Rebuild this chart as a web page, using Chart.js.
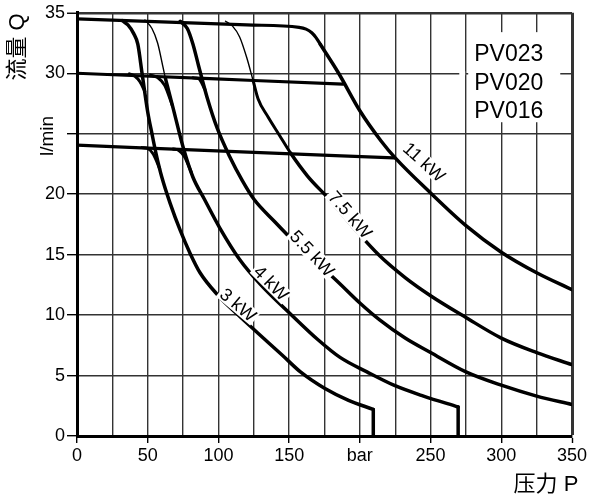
<!DOCTYPE html>
<html>
<head>
<meta charset="utf-8">
<script src="https://cdn.jsdelivr.net/npm/chart.js@4.4.1/dist/chart.umd.min.js"></script>
<style>
  body { margin: 0; background: #fff; }
  #wrap { width: 591px; height: 501px; }
</style>
</head>
<body>
<div id="wrap"><canvas id="pump" width="591" height="501"></canvas></div>
<script>
const FONT = '"Liberation Sans", "Noto Sans CJK SC", sans-serif';

// axis ticks
const xTicks = [0, 50, 100, 150, 200, 250, 300, 350];
const xTickLabels = ['0', '50', '100', '150', 'bar', '250', '300', '350'];
const yTicks = [0, 5, 10, 15, 20, 25, 30, 35];
const yTickLabels = ['0', '5', '10', '15', '20', '', '30', '35'];

// pump max flow lines (pressure bar / flow l/min)
const pv023P = [0, 60, 120, 157, 162, 166, 169, 172];
const pv023Q = [34.5, 34.25, 34.0, 33.8, 33.65, 33.35, 32.95, 32.4];
const pv020P = [0, 94, 188];
const pv020Q = [30.0, 29.55, 29.1];
const pv016P = [0, 112, 224];
const pv016Q = [24.05, 23.52, 23.0];

// motor power curves
const kw11P = [172, 185, 200, 215, 225, 250, 275, 300, 325, 350];
const kw11Q = [32.4, 30.0, 26.9, 24.4, 23.0, 20.1, 17.4, 15.2, 13.5, 12.1];
const kw75P = [105, 110, 115, 120, 124.5, 128, 135, 143, 151, 163, 179, 195, 214, 232, 250, 275, 300, 325, 350];
const kw75Q = [34.3, 33.9, 33.0, 31.3, 29.4, 27.9, 26.4, 24.9, 23.4, 21.5, 19.5, 17.3, 14.9, 13.1, 11.6, 9.8, 8.1, 6.9, 5.9];
const kw55P = [73, 78, 82, 86, 92, 99, 108, 117, 125, 140, 155, 170, 184, 200, 214, 232, 250, 275, 300, 325, 350];
const kw55Q = [34.3, 33.7, 32.4, 30.6, 28.0, 25.5, 23.1, 21.1, 19.6, 17.7, 15.9, 14.3, 12.8, 11.0, 9.6, 8.1, 6.9, 5.3, 4.2, 3.3, 2.6];
const kw4P = [48, 53, 57, 61, 62.5, 64, 68, 75, 82, 90, 101, 115, 130, 150, 170, 186, 205, 224, 245, 269.5];
const kw4Q = [34.4, 33.7, 32.5, 30.4, 29.6, 28.9, 27.1, 23.9, 21.4, 19.6, 17.2, 14.6, 12.5, 10.2, 8.0, 6.5, 5.3, 4.2, 3.3, 2.4];
const kw3P = [32, 36, 40, 43, 46, 50, 53, 56, 60, 66, 73, 80, 87, 100, 114, 128, 145, 158, 175, 192, 209.5];
const kw3Q = [34.35, 34.0, 33.3, 32.4, 30.0, 26.8, 25.0, 23.3, 21.4, 19.2, 17.0, 15.1, 13.5, 11.6, 10.0, 8.5, 6.7, 5.3, 3.95, 2.95, 2.2];

// cut-off at max pressure
const drop3P = [209.5, 209.5];
const drop3Q = [2.2, 0];
const drop4P = [269.5, 269.5];
const drop4Q = [2.4, 0];

// corners where the flow lines bend into the power curves
const bend020to3P = [37, 41, 44.5, 48];
const bend020to3Q = [29.95, 29.75, 29.3, 28.5];
const bend016to3P = [46, 50, 54, 58.5];
const bend016to3Q = [23.85, 23.78, 23.3, 22.1];
const bend020to4P = [52, 57, 62, 67.5];
const bend020to4Q = [29.85, 29.65, 29.0, 27.3];
const bend016to4P = [68, 72, 76, 81];
const bend016to4Q = [23.73, 23.62, 23.1, 21.76];
const bend020to55P = [82, 86, 90.5];
const bend020to55Q = [29.62, 29.55, 28.65];

const pumpNames = ['PV023', 'PV020', 'PV016'];
const kwNames = ['3 kW', '4 kW', '5.5 kW', '7.5 kW', '11 kW'];

const pts = (ps, qs) => ps.map((p, i) => ({ x: p, y: qs[i] }));

function line(ps, qs, width, extra) {
  return Object.assign({
    data: pts(ps, qs),
    borderColor: '#000',
    borderWidth: width,
    pointRadius: 0,
    fill: false,
    cubicInterpolationMode: 'monotone'
  }, extra || {});
}
const straight = { cubicInterpolationMode: 'default', tension: 0 };

const datasets = [
  line(pv023P, pv023Q, 3.2),
  line(pv020P, pv020Q, 3.2),
  line(pv016P, pv016Q, 3.2),
  line(kw11P, kw11Q, 3.5),
  line(kw75P, kw75Q, 3.5, { segment: { borderWidth: c => c.p0.parsed.y > 29.45 ? 1.4 : (c.p0.parsed.y > 23.45 ? 3 : 3.5) } }),
  line(kw55P, kw55Q, 3.5),
  line(kw4P, kw4Q, 3.5, { segment: { borderWidth: c => c.p0.parsed.y > 29.65 ? 1.4 : 3.5 } }),
  line(kw3P, kw3Q, 3.5),
  line(drop3P, drop3Q, 3.5, straight),
  line(drop4P, drop4Q, 3.5, straight),
  line(bend020to3P, bend020to3Q, 3),
  line(bend016to3P, bend016to3Q, 3),
  line(bend020to4P, bend020to4Q, 3),
  line(bend016to4P, bend016to4Q, 3),
  line(bend020to55P, bend020to55Q, 3)
];

const decor = {
  id: 'decor',
  beforeDatasetsDraw(chart) {
    const { ctx, scales: { x, y } } = chart;
    ctx.save();
    ctx.fillStyle = '#fff';
    // clear the grid behind the pump names
    const x0 = x.getPixelForValue(276.6), x1 = x.getPixelForValue(341.7);
    const y0 = y.getPixelForValue(33.4), y1 = y.getPixelForValue(25.95);
    ctx.fillRect(x0, y0, x1 - x0, y1 - y0);
    const xa = x.getPixelForValue(270.3);
    const y30 = y.getPixelForValue(30);
    ctx.fillRect(xa, y30 - 2, x0 - xa - 3, 4);
    ctx.fillStyle = '#000';
    ctx.font = '23px ' + FONT;
    ctx.textAlign = 'left';
    ctx.textBaseline = 'alphabetic';
    const tx = x.getPixelForValue(280.9);
    [31.05, 28.6, 26.3].forEach((v, i) => ctx.fillText(pumpNames[i], tx, y.getPixelForValue(v)));
    ctx.restore();
  },
  afterDatasetsDraw(chart) {
    const { ctx, scales: { x, y } } = chart;
    const spots = [[113.9, 10.85, 40], [137.3, 12.66, 45], [166.3, 15.1, 47], [193.2, 18.3, 49], [245.5, 22.65, 42]];
    ctx.save();
    ctx.font = '18px ' + FONT;
    ctx.textAlign = 'center';
    ctx.textBaseline = 'middle';
    kwNames.forEach((t, i) => {
      const [vx, vy, a] = spots[i];
      ctx.save();
      ctx.translate(x.getPixelForValue(vx), y.getPixelForValue(vy));
      ctx.rotate(a * Math.PI / 180);
      const w = ctx.measureText(t).width;
      ctx.fillStyle = '#fff';
      ctx.fillRect(-w / 2 - 2, -8, w + 4, 16);
      ctx.fillStyle = '#000';
      ctx.fillText(t, 0, 1);
      ctx.restore();
    });
    ctx.restore();
  },
  afterDraw(chart) {
    const ctx = chart.ctx;
    ctx.save();
    ctx.fillStyle = '#000';
    ctx.textAlign = 'center';
    ctx.textBaseline = 'middle';
    ctx.save();
    ctx.translate(18, 47);
    ctx.rotate(-Math.PI / 2);
    ctx.font = '22px ' + FONT;
    ctx.fillText('流量 Q', 0, 0);
    ctx.restore();
    ctx.save();
    ctx.translate(48, 136);
    ctx.rotate(-Math.PI / 2);
    ctx.font = '19px ' + FONT;
    ctx.fillText('l/min', 0, 0);
    ctx.restore();
    ctx.font = '22px ' + FONT;
    ctx.fillText('压力 P', 546, 485);
    ctx.restore();
  }
};

new Chart(document.getElementById('pump'), {
  type: 'line',
  data: { datasets },
  plugins: [decor],
  options: {
    responsive: false,
    animation: false,
    devicePixelRatio: 1,
    layout: { padding: { top: 12, right: 19, left: 0, bottom: 0 } },
    plugins: { legend: { display: false }, tooltip: { enabled: false } },
    elements: { line: { borderCapStyle: 'round', borderJoinStyle: 'round' } },
    scales: {
      x: {
        type: 'linear',
        min: 0,
        max: 350,
        afterFit: s => { s.height = 65; },
        ticks: {
          stepSize: 25,
          autoSkip: false,
          maxRotation: 0,
          color: '#000',
          padding: 2,
          font: { size: 18, family: FONT },
          callback: v => { const i = xTicks.indexOf(v); return i < 0 ? '' : xTickLabels[i]; }
        },
        grid: {
          color: '#333',
          lineWidth: c => c.tick && c.tick.value === 350 ? 3 : 1.4,
          tickLength: 7,
          tickColor: c => c.tick && xTicks.includes(c.tick.value) ? '#000' : 'rgba(0,0,0,0)',
          tickWidth: 1.4
        },
        border: { color: '#000', width: 3 }
      },
      y: {
        min: 0,
        max: 35,
        afterFit: s => { s.width = 77; },
        ticks: {
          stepSize: 5,
          color: '#000',
          padding: 2,
          font: { size: 18, family: FONT },
          callback: v => { const i = yTicks.indexOf(v); return i < 0 ? '' : yTickLabels[i]; }
        },
        grid: {
          color: '#333',
          lineWidth: c => c.tick && c.tick.value === 35 ? 2.5 : 1.4,
          tickLength: 10,
          tickColor: '#000',
          tickWidth: 1.4
        },
        border: { color: '#000', width: 3 }
      }
    }
  }
});
</script>
</body>
</html>
